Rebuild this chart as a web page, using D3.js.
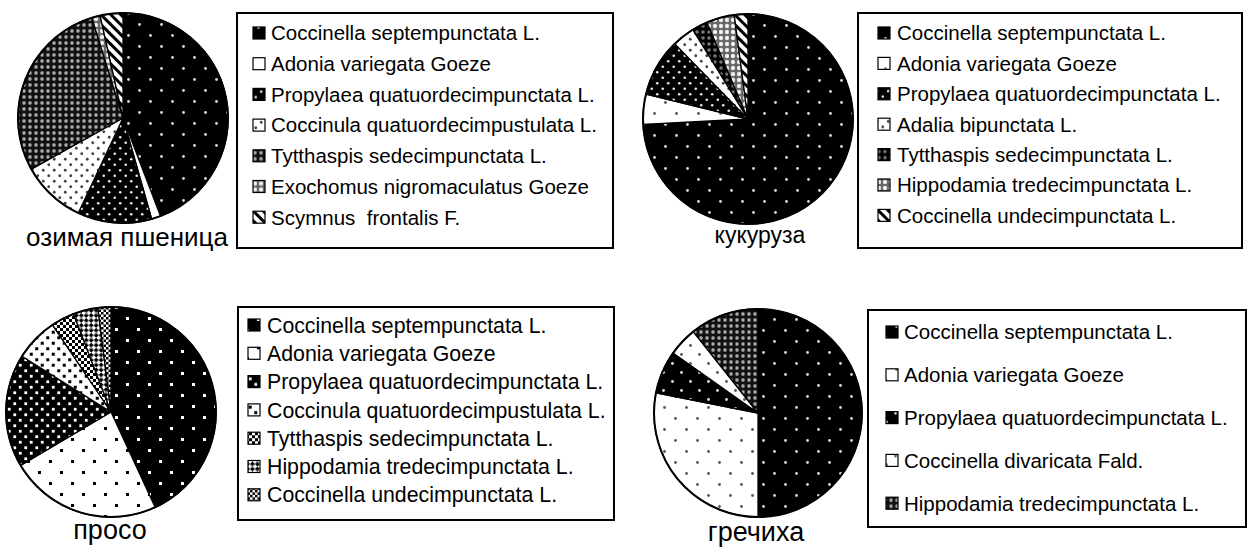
<!DOCTYPE html>
<html>
<head>
<meta charset="utf-8">
<script src="https://cdn.jsdelivr.net/npm/d3@7"></script>
<style>
  html, body { margin: 0; padding: 0; background: #fff; }
  svg { display: block; font-family: "Liberation Sans", Arial, sans-serif; }
</style>
</head>
<body>
<svg id="chart" width="1248" height="548"></svg>
<script>
// Crop titles
const cropTitles = ["озимая пшеница", "кукуруза", "просо", "гречиха"];

// Species per crop (legend order = slice order)
const speciesWheat = [
  "Coccinella septempunctata L.",
  "Adonia variegata Goeze",
  "Propylaea quatuordecimpunctata L.",
  "Coccinula quatuordecimpustulata L.",
  "Tytthaspis sedecimpunctata L.",
  "Exochomus nigromaculatus Goeze",
  "Scymnus  frontalis F."
];
const speciesCorn = [
  "Coccinella septempunctata L.",
  "Adonia variegata Goeze",
  "Propylaea quatuordecimpunctata L.",
  "Adalia bipunctata L.",
  "Tytthaspis sedecimpunctata L.",
  "Hippodamia tredecimpunctata L.",
  "Coccinella undecimpunctata L."
];
const speciesMillet = [
  "Coccinella septempunctata L.",
  "Adonia variegata Goeze",
  "Propylaea quatuordecimpunctata L.",
  "Coccinula quatuordecimpustulata L.",
  "Tytthaspis sedecimpunctata L.",
  "Hippodamia tredecimpunctata L.",
  "Coccinella undecimpunctata L."
];
const speciesBuckwheat = [
  "Coccinella septempunctata L.",
  "Adonia variegata Goeze",
  "Propylaea quatuordecimpunctata L.",
  "Coccinella divaricata Fald.",
  "Hippodamia tredecimpunctata L."
];

// Share of each species, %
const sharesWheat     = [44.2, 1.4, 11.4, 9.9, 28.3, 1.3, 3.5];
const sharesCorn      = [74.2, 4.6, 8.9, 3.5, 2.4, 4.3, 2.1];
const sharesMillet    = [43.1, 23.4, 17.4, 6.7, 3.6, 3.8, 2.0];
const sharesBuckwheat = [50.0, 28.1, 6.7, 4.5, 10.7];

const svg = d3.select("#chart");
const defs = svg.append("defs");

// ---- fill patterns ----
// two-dot diamond lattice
function latticePattern(id, size, bg, fg, r, square) {
  const p = defs.append("pattern").attr("id", id)
    .attr("patternUnits", "userSpaceOnUse")
    .attr("width", size).attr("height", size);
  p.append("rect").attr("width", size).attr("height", size).attr("fill", bg);
  [[size / 4, size / 4], [size * 3 / 4, size * 3 / 4]].forEach(([cx, cy]) => {
    if (square) {
      p.append("rect").attr("x", cx - r).attr("y", cy - r)
        .attr("width", 2 * r).attr("height", 2 * r).attr("fill", fg);
    } else {
      p.append("circle").attr("cx", cx).attr("cy", cy).attr("r", r).attr("fill", fg);
    }
  });
}
// ring/cross texture
function crossPattern(id, size, bg, ring, r, core) {
  const p = defs.append("pattern").attr("id", id)
    .attr("patternUnits", "userSpaceOnUse")
    .attr("width", size).attr("height", size);
  p.append("rect").attr("width", size).attr("height", size).attr("fill", bg);
  p.append("circle").attr("cx", size / 2).attr("cy", size / 2).attr("r", r).attr("fill", ring);
  if (core) p.append("circle").attr("cx", size / 2).attr("cy", size / 2).attr("r", r * 0.4).attr("fill", core);
}
function hatchPattern(id, size, bg, fg, w, angle) {
  const p = defs.append("pattern").attr("id", id)
    .attr("patternUnits", "userSpaceOnUse")
    .attr("width", size).attr("height", size)
    .attr("patternTransform", `rotate(${angle})`);
  p.append("rect").attr("width", size).attr("height", size).attr("fill", bg);
  p.append("rect").attr("width", w).attr("height", size).attr("fill", fg);
}
function checkerPattern(id, cell, a, b, angle) {
  const p = defs.append("pattern").attr("id", id)
    .attr("patternUnits", "userSpaceOnUse")
    .attr("width", cell * 2).attr("height", cell * 2)
    .attr("patternTransform", `rotate(${angle})`);
  p.append("rect").attr("width", cell * 2).attr("height", cell * 2).attr("fill", a);
  p.append("rect").attr("width", cell).attr("height", cell).attr("fill", b);
  p.append("rect").attr("x", cell).attr("y", cell).attr("width", cell).attr("height", cell).attr("fill", b);
}

latticePattern("blackSparse", 22, "#000", "#d8d8d8", 1.4, false);
latticePattern("whiteSparse", 22, "#fff", "#555", 1.4, false);
latticePattern("blackDense", 11, "#000", "#e8e8e8", 1.3, false);
latticePattern("whiteDense", 11, "#fff", "#444", 1.4, false);
latticePattern("blackMid", 18, "#000", "#e0e0e0", 1.4, false);
latticePattern("whiteMid", 18, "#fff", "#555", 1.4, false);
crossPattern("grayCross", 6, "#111", "#8c8c8c", 1.9, "#d8d8d8");
crossPattern("lightCross", 6, "#666", "#e6e6e6", 2.2, "#fff");
crossPattern("darkCross", 6, "#000", "#777", 1.8, null);
hatchPattern("hatch", 7, "#fff", "#000", 3, -45);
latticePattern("blackSq", 22, "#000", "#fff", 1.5, true);
latticePattern("whiteSq", 22, "#fff", "#000", 1.5, true);
latticePattern("blackSqDense", 11, "#000", "#fff", 1.4, true);
latticePattern("whiteSqDense", 11, "#fff", "#000", 1.5, true);
checkerPattern("checkDark", 3, "#000", "#fff", 0);
checkerPattern("checkDiag", 3.5, "#fff", "#000", 45);
checkerPattern("checkSmall", 2.5, "#fff", "#000", 0);

const fillsWheat     = ["blackSparse", "#fff", "blackDense", "whiteDense", "grayCross", "lightCross", "hatch"];
const fillsCorn      = ["blackSparse", "whiteSparse", "blackDense", "whiteDense", "darkCross", "lightCross", "hatch"];
const fillsMillet    = ["blackSq", "whiteSq", "blackSqDense", "whiteSqDense", "checkDark", "checkDiag", "checkSmall"];
const fillsBuckwheat = ["blackSparse", "whiteSparse", "blackMid", "whiteMid", "grayCross"];

function fillRef(f) { return f.startsWith("#") ? f : `url(#${f})`; }

// ---- panel layout ----
const panels = [
  { title: cropTitles[0], species: speciesWheat, shares: sharesWheat, fills: fillsWheat,
    cx: 123, cy: 118, r: 105, tx: 127, ty: 246, titleSize: 26,
    box: [237, 13, 376, 235], itemY0: 33, itemStep: 30.7, markX: 253, textX: 271, legendSize: 20.5 },
  { title: cropTitles[1], species: speciesCorn, shares: sharesCorn, fills: fillsCorn,
    cx: 748, cy: 119, r: 105, tx: 760, ty: 243, titleSize: 23,
    box: [858, 13, 384, 235], itemY0: 33, itemStep: 30.4, markX: 878, textX: 897, legendSize: 20.5 },
  { title: cropTitles[2], species: speciesMillet, shares: sharesMillet, fills: fillsMillet,
    cx: 111, cy: 412, r: 105, tx: 110, ty: 539, titleSize: 27,
    box: [238, 307, 376, 213], itemY0: 325, itemStep: 28.3, markX: 248, textX: 267, legendSize: 21.3 },
  { title: cropTitles[3], species: speciesBuckwheat, shares: sharesBuckwheat, fills: fillsBuckwheat,
    cx: 758, cy: 413, r: 104, tx: 756, ty: 541, titleSize: 27,
    box: [868, 310, 378, 217], itemY0: 332, itemStep: 42.8, markX: 886, textX: 904, legendSize: 20.5 }
];

const pie = d3.pie().sort(null).value(d => d.value);

panels.forEach(p => {
  const data = p.species.map((name, i) => ({ name, value: p.shares[i], fill: p.fills[i] }));
  const arc = d3.arc().innerRadius(0).outerRadius(p.r);

  const g = svg.append("g").attr("transform", `translate(${p.cx},${p.cy})`);
  g.selectAll("path.slice")
    .data(pie(data))
    .join("path")
    .attr("class", "slice")
    .attr("d", arc)
    .attr("fill", d => fillRef(d.data.fill))
    .attr("stroke", "#000")
    .attr("stroke-width", 1.3)
    .attr("stroke-linejoin", "round");
  g.append("circle").attr("r", p.r).attr("fill", "none")
    .attr("stroke", "#000").attr("stroke-width", 2);

  svg.append("text")
    .attr("x", p.tx).attr("y", p.ty)
    .attr("text-anchor", "middle")
    .attr("font-size", p.titleSize)
    .attr("fill", "#000")
    .text(p.title);

  // legend
  const [bx, by, bw, bh] = p.box;
  svg.append("rect")
    .attr("x", bx).attr("y", by).attr("width", bw).attr("height", bh)
    .attr("fill", "#fff").attr("stroke", "#000").attr("stroke-width", 2);

  const items = svg.append("g").selectAll("g")
    .data(data)
    .join("g")
    .attr("transform", (d, i) => `translate(0,${p.itemY0 + i * p.itemStep})`);
  items.append("rect")
    .attr("x", p.markX).attr("y", -6).attr("width", 12).attr("height", 12)
    .attr("fill", d => fillRef(d.fill))
    .attr("stroke", "#000").attr("stroke-width", 1.2);
  items.append("text")
    .attr("x", p.textX).attr("y", 0)
    .attr("dy", "0.36em")
    .attr("font-size", p.legendSize)
    .attr("fill", "#000")
    .attr("xml:space", "preserve")
    .style("white-space", "pre")
    .text(d => d.name);
});
</script>
</body>
</html>
